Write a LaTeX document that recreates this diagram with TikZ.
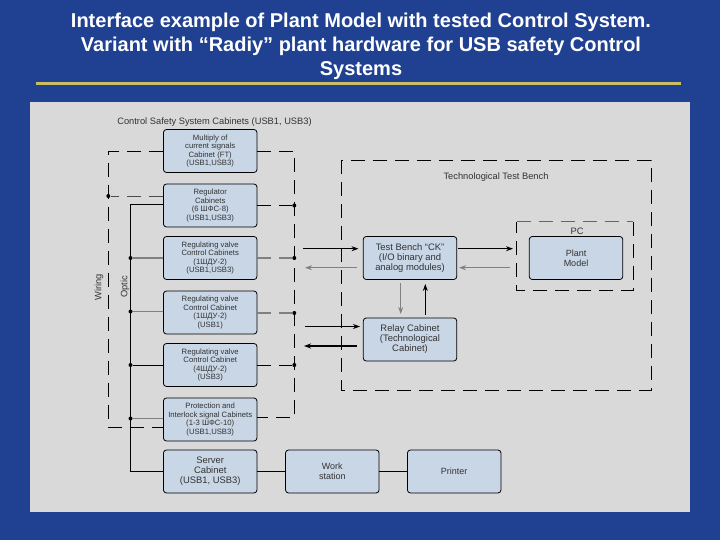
\documentclass[tikz,border=0pt]{standalone}
\usepackage{fontspec}
\setmainfont{Liberation Sans}
\usetikzlibrary{arrows,arrows.meta,positioning,calc,backgrounds}
\definecolor{slideblue}{HTML}{204191}
\definecolor{panelgrey}{HTML}{D9D9D9}
\definecolor{boxblue}{HTML}{C8D6E6}
\definecolor{rulegold}{HTML}{C9BF62}
\definecolor{greyline}{HTML}{808080}
\tikzset{
    cabinet/.style={draw=black, fill=boxblue, rounded corners=3pt, line width=0.8pt, inner sep=0pt, outer sep=0pt, minimum width=93.5pt, minimum height=43pt, align=center, text=black!80, font=\fontsize{7.7}{8.4}\selectfont},
    bigcabinet/.style={cabinet, font=\fontsize{9.4}{10}\selectfont},
    smallcabinet/.style={cabinet, font=\fontsize{9}{10}\selectfont},
    joint/.style={circle, fill=black, inner sep=0pt, minimum size=4pt},
    longdash/.style={dash pattern=on 14pt off 8pt, line width=0.7pt},
    solidlink/.style={line width=0.8pt},
    greylink/.style={line width=1.5pt, color=greyline},
    flow/.style={-{Stealth[length=7pt,width=5pt]}, line width=0.8pt},
    greyflow/.style={-{Stealth[length=7pt,width=5pt]}, line width=1.5pt, color=greyline},
    caption/.style={text=black!80, font=\fontsize{9.3}{10}\selectfont}
}
\begin{document}
\begin{tikzpicture}[x=1pt,y=-1pt]
        \useasboundingbox (0,0) rectangle (720,540);
        \fill[slideblue] (0,0) rectangle (720,540);
        \node[align=center, text=white, font=\bfseries\fontsize{20}{24}\selectfont] (title) at (361,46) {Interface example of Plant Model with tested Control System.\\Variant with “Radiy” plant hardware for USB safety Control\\Systems};
        \coordinate (ruleL) at (36,83.5);
        \coordinate (ruleR) at (681,83.5);
        \draw[rulegold, line width=2.2pt] (ruleL) -- (ruleR);
        \fill[panelgrey] (30,102) rectangle (690,512);

        % cabinets on the left
        \node[cabinet] (ft) at (210.2,151) {Multiply of\\current signals\\Cabinet (FT)\\(USB1,USB3)};
        \node[cabinet] (reg) at (210.2,205.5) {Regulator\\Cabinets\\(6 ШФС-8)\\(USB1,USB3)};
        \node[cabinet] (valveA) at (210.2,258) {Regulating valve\\Control Cabinets\\(1ШДУ-2)\\(USB1,USB3)};
        \node[cabinet] (valveB) at (210.2,312.5) {Regulating valve\\Control Cabinet\\(1ШДУ-2)\\(USB1)};
        \node[cabinet] (valveC) at (210.2,365) {Regulating valve\\Control Cabinet\\(4ШДУ-2)\\(USB3)};
        \node[cabinet] (prot) at (210.2,419.5) {Protection and\\Interlock signal Cabinets\\(1-3 ШФС-10)\\(USB1,USB3)};
        \node[bigcabinet] (server) at (210.2,471.5) {Server\\Cabinet\\(USB1, USB3)};
        \node[smallcabinet] (work) at (332.3,471.5) {Work\\station};
        \node[smallcabinet] (printer) at (454.2,471.5) {Printer};

        % test bench
        \node[bigcabinet] (bench) at (410,258) {Test Bench “CK”\\(I/O binary and\\analog modules)};
        \node[bigcabinet] (relay) at (410,339.5) {Relay Cabinet\\(Technological\\Cabinet)};
        \node[smallcabinet] (plant) at (576,258) {Plant\\Model};
        \draw[longdash] (341,160) rectangle (651,390);
        \draw[longdash, color=black!60, line width=1pt] (516.7,221.7) -- (633,221.7);
        \draw[longdash] (633,221.7) -- (633,290) -- (516.7,290) -- (516.7,221.7);

        \node[caption] (cssLabel) at (214.5,122) {Control Safety System Cabinets (USB1, USB3)};
        \node[caption] (tbLabel) at (496,177.5) {Technological Test Bench};
        \node[caption] (pcLabel) at (577,231) {PC};
        \node[caption, rotate=90] (wiringLabel) at (99,287) {Wiring};
        \node[caption, rotate=90] (opticLabel) at (125,287) {Optic};

        % joints on wiring and optic buses
        \node[joint] (wireReg) at (108.3,196) {};
        \node[joint] (optA) at (130.5,258) {};
        \node[joint] (optB) at (130.5,311.5) {};
        \node[joint] (optC) at (130.5,365) {};
        \node[joint] (optD) at (130.5,418.5) {};
        \node[joint] (wireB) at (294.3,205.5) {};
        \node[joint] (wireC) at (294.3,258) {};
        \node[joint] (wireD) at (294.3,313) {};
        \node[joint] (wireE) at (294.3,365) {};
        \coordinate (wiringTopL) at (108.3,151.7);
        \coordinate (wiringBotL) at (108.3,427);
        \coordinate (wiringTopR) at (294.3,151.7);
        \coordinate (wiringBotR) at (294.3,417.7);
        \coordinate (opticTop) at (130.5,204.7);
        \coordinate (opticBot) at (130.5,471.5);

        \draw[longdash] (wiringTopL -| ft.west) -- (wiringTopL) -- (wiringBotL) -- (wiringBotL -| prot.west);
        \draw[longdash] (wiringTopR -| ft.east) -- (wiringTopR) -- (wiringBotR) -- (wiringBotR -| prot.east);
        \draw[longdash, color=black!70] (wireReg -| reg.west) -- (wireReg);
        \draw[solidlink] (opticTop -| reg.west) -- (opticTop) -- (opticBot) -- (server.west);
        \draw[greylink] (optA) -- (valveA.west);
        \draw[greylink] (optB) -- (optB -| valveB.west);
        \draw[solidlink] (optC) -- (valveC.west);
        \draw[greylink] (optD) -- (optD -| prot.west);
        \draw[longdash, line width=0.9pt] (reg.east) -- (wireB);
        \draw[greylink, dash pattern=on 14pt off 8pt] (valveA.east) -- (wireC);
        \draw[greylink, dash pattern=on 14pt off 8pt] (wireD -| valveB.east) -- (wireD);
        \draw[longdash, line width=0.9pt] (valveC.east) -- (wireE);
        \draw[solidlink] (server) -- (work);
        \draw[solidlink] (work) -- (printer);

        % free arrows beside the bench
        \coordinate (inA) at (303,248.7);
        \coordinate (outA) at (305,267.7);
        \coordinate (inB) at (305,326.5);
        \coordinate (outB) at (304,346);
        \coordinate (pcIn) at (513,248.7);
        \coordinate (pcOut) at (510,267.7);
        \coordinate (benchDown) at (400.7,283);
        \coordinate (relayDown) at (400.7,314);
        \coordinate (relayUp) at (425.3,315);
        \coordinate (benchUp) at (425.3,284);
        \draw[flow] (inA) -- (358.5,248.7);
        \draw[greyflow] (357,267.7) -- (outA);
        \draw[flow] (inB) -- (360,326.5);
        \draw[flow, line width=1.2pt] (357,346) -- (outB);
        \draw[flow] (458,248.7) -- (pcIn);
        \draw[greyflow] (pcOut) -- (459,267.7);
        \draw[greyflow] (benchDown) -- (relayDown);
        \draw[flow] (relayUp) -- (benchUp);
\end{tikzpicture}
\end{document}
